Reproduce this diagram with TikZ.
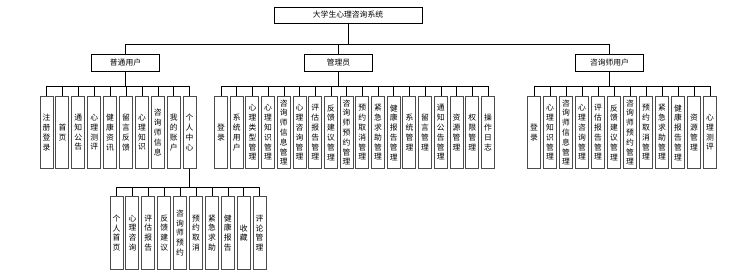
\documentclass[tikz,border=0pt]{standalone}
\usepackage{fontspec}
\setmainfont{Noto Sans CJK SC}

\begin{document}
\begin{tikzpicture}[
  x=1pt,y=-1pt,
  top/.style={draw,minimum width=148pt,minimum height=16pt,inner sep=0pt,
              font=\fontsize{7.8}{10}\selectfont},
  role/.style={draw,minimum width=68pt,minimum height=17pt,inner sep=0pt,
               font=\fontsize{7.8}{10}\selectfont},
  leaf/.style={draw=black!70,line width=0.9pt,minimum width=13pt,
               minimum height=72pt,inner sep=0pt,align=center,anchor=north,
               font=\fontsize{7.8}{9.8}\selectfont},
  link/.style={line width=0.6pt},
]
\useasboundingbox (0,0) rectangle (734,279);

\node[top]  (sys)   at (348,15)    {大学生心理咨询系统};
\node[role] (user)  at (125.5,62.5) {普通用户};
\node[role] (admin) at (338.5,62.5) {管理员};
\node[role] (cons)  at (609.5,62.5) {咨询师用户};

% top level
\draw[link] (sys.south) -- ++(0,21) -| (user.north);
\draw[link] (sys.south) -- ++(0,21) -| (admin.north);
\draw[link] (sys.south) -- ++(0,21) -| (cons.north);

% ordinary user
\foreach \t [count=\i from 0] in {注\\册\\登\\录, 首\\页, 通\\知\\公\\告,
    心\\理\\测\\评, 健\\康\\资\\讯, 留\\言\\反\\馈, 心\\理\\知\\识,
    咨\\询\\师\\信\\息, 我\\的\\账\\户, 个\\人\\中\\心} {
  \node[leaf] (u\i) at ({46.5+15.9*\i},96) {\t};
  \draw[link] (user.south) -- ++(0,15) -| (u\i.north);
}

% admin
\foreach \t [count=\i from 0] in {登\\录, 系\\统\\用\\户, 心\\理\\类\\型\\管\\理,
    心\\理\\知\\识\\管\\理, 咨\\询\\师\\信\\息\\管\\理, 心\\理\\咨\\询\\管\\理,
    评\\估\\报\\告\\管\\理, 反\\馈\\建\\议\\管\\理, 咨\\询\\师\\预\\约\\管\\理,
    预\\约\\取\\消\\管\\理, 紧\\急\\求\\助\\管\\理, 健\\康\\报\\告\\管\\理,
    系\\统\\管\\理, 留\\言\\管\\理, 通\\知\\公\\告\\管\\理, 资\\源\\管\\理,
    权\\限\\管\\理, 操\\作\\日\\志} {
  \node[leaf] (a\i) at ({221+15.7*\i},96) {\t};
  \draw[link] (admin.south) -- ++(0,15) -| (a\i.north);
}

% counsellor
\foreach \t [count=\i from 0] in {登\\录, 心\\理\\知\\识\\管\\理,
    咨\\询\\师\\信\\息\\管\\理, 心\\理\\咨\\询\\管\\理, 评\\估\\报\\告\\管\\理,
    反\\馈\\建\\议\\管\\理, 咨\\询\\师\\预\\约\\管\\理, 预\\约\\取\\消\\管\\理,
    紧\\急\\求\\助\\管\\理, 健\\康\\报\\告\\管\\理, 资\\源\\管\\理,
    心\\理\\测\\评} {
  \node[leaf] (c\i) at ({534+16*\i},96) {\t};
  \draw[link] (cons.south) -- ++(0,15) -| (c\i.north);
}

% personal centre
\foreach \t [count=\i from 0] in {个\\人\\首\\页, 心\\理\\咨\\询, 评\\估\\报\\告,
    反\\馈\\建\\议, 咨\\询\\师\\预\\约, 预\\约\\取\\消, 紧\\急\\求\\助,
    健\\康\\报\\告, 收\\藏, 评\\论\\管\\理} {
  \node[leaf,minimum height=73pt] (p\i) at ({116.5+15.9*\i},196) {\t};
  \draw[link] (u9.south) -- ++(0,18) -| (p\i.north);
}

\end{tikzpicture}
\end{document}
